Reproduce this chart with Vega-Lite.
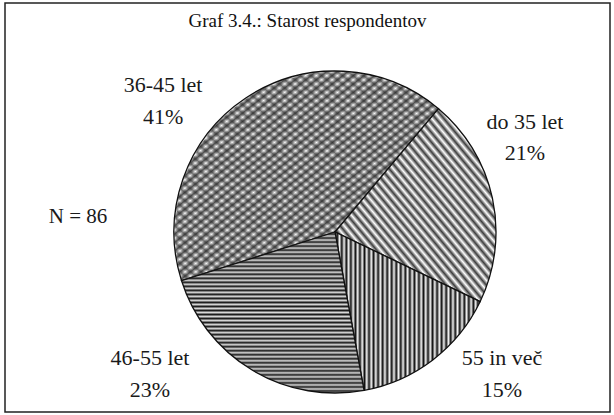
{
  "$schema": "https://vega.github.io/schema/vega-lite/v6.json",
  "autosize": {"type": "none"},
  "padding": {"left": 5, "top": 3, "right": 4, "bottom": 3},
  "width": 605,
  "height": 409,
  "background": "#ffffff",
  "config": {"view": {"stroke": null}, "font": "Liberation Serif"},
  "title": {"text": "Graf 3.4.: Starost respondentov", "font": "Liberation Serif", "fontSize": 19, "fontWeight": "normal", "color": "#111111", "anchor": "middle", "baseline": "middle", "offset": -39, "dy": 14},
  "data": {"values": [
    {"cat": "36-45 let", "pct": 41},
    {"cat": "do 35 let", "pct": 21},
    {"cat": "55 in več", "pct": 15},
    {"cat": "46-55 let", "pct": 23}
  ]},
  "layer": [
    {
      "data": {"values": [{"frame": "border"}]},
      "mark": {"type": "rect", "x": 0, "y": 0, "x2": "width", "y2": "height", "fill": "transparent", "stroke": "#222222", "strokeWidth": 1.5},
      "encoding": {}
    },
    {
      "mark": {"type": "arc", "outerRadius": 161, "x": 330, "y": 229, "stroke": "#111111", "strokeWidth": 1.3},
      "encoding": {
        "theta": {"field": "pct", "type": "quantitative", "stack": true, "scale": {"range": [0.6981, 6.9813]}},
        "order": {"field": "cat", "sort": "descending"},
        "detail": {"field": "cat"},
        "fill": {
          "condition": [
            {"test": "datum.cat === 'do 35 let'", "value": {"gradient": "linear", "x1": 0, "y1": 1, "x2": 1, "y2": 0, "stops": [
              {"offset":0,"color":"#fff"},{"offset":0.0125,"color":"#3c3c3c"},{"offset":0.025,"color":"#fff"},{"offset":0.0375,"color":"#3c3c3c"},{"offset":0.05,"color":"#fff"},{"offset":0.0625,"color":"#3c3c3c"},{"offset":0.075,"color":"#fff"},{"offset":0.0875,"color":"#3c3c3c"},{"offset":0.1,"color":"#fff"},{"offset":0.1125,"color":"#3c3c3c"},{"offset":0.125,"color":"#fff"},{"offset":0.1375,"color":"#3c3c3c"},{"offset":0.15,"color":"#fff"},{"offset":0.1625,"color":"#3c3c3c"},{"offset":0.175,"color":"#fff"},{"offset":0.1875,"color":"#3c3c3c"},{"offset":0.2,"color":"#fff"},{"offset":0.2125,"color":"#3c3c3c"},{"offset":0.225,"color":"#fff"},{"offset":0.2375,"color":"#3c3c3c"},{"offset":0.25,"color":"#fff"},{"offset":0.2625,"color":"#3c3c3c"},{"offset":0.275,"color":"#fff"},{"offset":0.2875,"color":"#3c3c3c"},{"offset":0.3,"color":"#fff"},{"offset":0.3125,"color":"#3c3c3c"},{"offset":0.325,"color":"#fff"},{"offset":0.3375,"color":"#3c3c3c"},{"offset":0.35,"color":"#fff"},{"offset":0.3625,"color":"#3c3c3c"},{"offset":0.375,"color":"#fff"},{"offset":0.3875,"color":"#3c3c3c"},{"offset":0.4,"color":"#fff"},{"offset":0.4125,"color":"#3c3c3c"},{"offset":0.425,"color":"#fff"},{"offset":0.4375,"color":"#3c3c3c"},{"offset":0.45,"color":"#fff"},{"offset":0.4625,"color":"#3c3c3c"},{"offset":0.475,"color":"#fff"},{"offset":0.4875,"color":"#3c3c3c"},{"offset":0.5,"color":"#fff"},{"offset":0.5125,"color":"#3c3c3c"},{"offset":0.525,"color":"#fff"},{"offset":0.5375,"color":"#3c3c3c"},{"offset":0.55,"color":"#fff"},{"offset":0.5625,"color":"#3c3c3c"},{"offset":0.575,"color":"#fff"},{"offset":0.5875,"color":"#3c3c3c"},{"offset":0.6,"color":"#fff"},{"offset":0.6125,"color":"#3c3c3c"},{"offset":0.625,"color":"#fff"},{"offset":0.6375,"color":"#3c3c3c"},{"offset":0.65,"color":"#fff"},{"offset":0.6625,"color":"#3c3c3c"},{"offset":0.675,"color":"#fff"},{"offset":0.6875,"color":"#3c3c3c"},{"offset":0.7,"color":"#fff"},{"offset":0.7125,"color":"#3c3c3c"},{"offset":0.725,"color":"#fff"},{"offset":0.7375,"color":"#3c3c3c"},{"offset":0.75,"color":"#fff"},{"offset":0.7625,"color":"#3c3c3c"},{"offset":0.775,"color":"#fff"},{"offset":0.7875,"color":"#3c3c3c"},{"offset":0.8,"color":"#fff"},{"offset":0.8125,"color":"#3c3c3c"},{"offset":0.825,"color":"#fff"},{"offset":0.8375,"color":"#3c3c3c"},{"offset":0.85,"color":"#fff"},{"offset":0.8625,"color":"#3c3c3c"},{"offset":0.875,"color":"#fff"},{"offset":0.8875,"color":"#3c3c3c"},{"offset":0.9,"color":"#fff"},{"offset":0.9125,"color":"#3c3c3c"},{"offset":0.925,"color":"#fff"},{"offset":0.9375,"color":"#3c3c3c"},{"offset":0.95,"color":"#fff"},{"offset":0.9625,"color":"#3c3c3c"},{"offset":0.975,"color":"#fff"},{"offset":0.9875,"color":"#3c3c3c"},{"offset":1,"color":"#fff"}
            ]}},
            {"test": "datum.cat === '55 in več'", "value": {"gradient": "linear", "x1": 0, "y1": 0, "x2": 1, "y2": 0, "stops": [
              {"offset":0,"color":"#f4f4f4"},{"offset":0.015625,"color":"#111"},{"offset":0.03125,"color":"#f4f4f4"},{"offset":0.046875,"color":"#111"},{"offset":0.0625,"color":"#f4f4f4"},{"offset":0.078125,"color":"#111"},{"offset":0.09375,"color":"#f4f4f4"},{"offset":0.109375,"color":"#111"},{"offset":0.125,"color":"#f4f4f4"},{"offset":0.140625,"color":"#111"},{"offset":0.15625,"color":"#f4f4f4"},{"offset":0.171875,"color":"#111"},{"offset":0.1875,"color":"#f4f4f4"},{"offset":0.203125,"color":"#111"},{"offset":0.21875,"color":"#f4f4f4"},{"offset":0.234375,"color":"#111"},{"offset":0.25,"color":"#f4f4f4"},{"offset":0.265625,"color":"#111"},{"offset":0.28125,"color":"#f4f4f4"},{"offset":0.296875,"color":"#111"},{"offset":0.3125,"color":"#f4f4f4"},{"offset":0.328125,"color":"#111"},{"offset":0.34375,"color":"#f4f4f4"},{"offset":0.359375,"color":"#111"},{"offset":0.375,"color":"#f4f4f4"},{"offset":0.390625,"color":"#111"},{"offset":0.40625,"color":"#f4f4f4"},{"offset":0.421875,"color":"#111"},{"offset":0.4375,"color":"#f4f4f4"},{"offset":0.453125,"color":"#111"},{"offset":0.46875,"color":"#f4f4f4"},{"offset":0.484375,"color":"#111"},{"offset":0.5,"color":"#f4f4f4"},{"offset":0.515625,"color":"#111"},{"offset":0.53125,"color":"#f4f4f4"},{"offset":0.546875,"color":"#111"},{"offset":0.5625,"color":"#f4f4f4"},{"offset":0.578125,"color":"#111"},{"offset":0.59375,"color":"#f4f4f4"},{"offset":0.609375,"color":"#111"},{"offset":0.625,"color":"#f4f4f4"},{"offset":0.640625,"color":"#111"},{"offset":0.65625,"color":"#f4f4f4"},{"offset":0.671875,"color":"#111"},{"offset":0.6875,"color":"#f4f4f4"},{"offset":0.703125,"color":"#111"},{"offset":0.71875,"color":"#f4f4f4"},{"offset":0.734375,"color":"#111"},{"offset":0.75,"color":"#f4f4f4"},{"offset":0.765625,"color":"#111"},{"offset":0.78125,"color":"#f4f4f4"},{"offset":0.796875,"color":"#111"},{"offset":0.8125,"color":"#f4f4f4"},{"offset":0.828125,"color":"#111"},{"offset":0.84375,"color":"#f4f4f4"},{"offset":0.859375,"color":"#111"},{"offset":0.875,"color":"#f4f4f4"},{"offset":0.890625,"color":"#111"},{"offset":0.90625,"color":"#f4f4f4"},{"offset":0.921875,"color":"#111"},{"offset":0.9375,"color":"#f4f4f4"},{"offset":0.953125,"color":"#111"},{"offset":0.96875,"color":"#f4f4f4"},{"offset":0.984375,"color":"#111"},{"offset":1,"color":"#f4f4f4"}
            ]}},
            {"test": "datum.cat === '46-55 let'", "value": {"gradient": "linear", "x1": 0, "y1": 0, "x2": 0, "y2": 1, "stops": [
              {"offset":0,"color":"#d8d8d8"},{"offset":0.0125,"color":"#1a1a1a"},{"offset":0.025,"color":"#d8d8d8"},{"offset":0.0375,"color":"#1a1a1a"},{"offset":0.05,"color":"#d8d8d8"},{"offset":0.0625,"color":"#1a1a1a"},{"offset":0.075,"color":"#d8d8d8"},{"offset":0.0875,"color":"#1a1a1a"},{"offset":0.1,"color":"#d8d8d8"},{"offset":0.1125,"color":"#1a1a1a"},{"offset":0.125,"color":"#d8d8d8"},{"offset":0.1375,"color":"#1a1a1a"},{"offset":0.15,"color":"#d8d8d8"},{"offset":0.1625,"color":"#1a1a1a"},{"offset":0.175,"color":"#d8d8d8"},{"offset":0.1875,"color":"#1a1a1a"},{"offset":0.2,"color":"#d8d8d8"},{"offset":0.2125,"color":"#1a1a1a"},{"offset":0.225,"color":"#d8d8d8"},{"offset":0.2375,"color":"#1a1a1a"},{"offset":0.25,"color":"#d8d8d8"},{"offset":0.2625,"color":"#1a1a1a"},{"offset":0.275,"color":"#d8d8d8"},{"offset":0.2875,"color":"#1a1a1a"},{"offset":0.3,"color":"#d8d8d8"},{"offset":0.3125,"color":"#1a1a1a"},{"offset":0.325,"color":"#d8d8d8"},{"offset":0.3375,"color":"#1a1a1a"},{"offset":0.35,"color":"#d8d8d8"},{"offset":0.3625,"color":"#1a1a1a"},{"offset":0.375,"color":"#d8d8d8"},{"offset":0.3875,"color":"#1a1a1a"},{"offset":0.4,"color":"#d8d8d8"},{"offset":0.4125,"color":"#1a1a1a"},{"offset":0.425,"color":"#d8d8d8"},{"offset":0.4375,"color":"#1a1a1a"},{"offset":0.45,"color":"#d8d8d8"},{"offset":0.4625,"color":"#1a1a1a"},{"offset":0.475,"color":"#d8d8d8"},{"offset":0.4875,"color":"#1a1a1a"},{"offset":0.5,"color":"#d8d8d8"},{"offset":0.5125,"color":"#1a1a1a"},{"offset":0.525,"color":"#d8d8d8"},{"offset":0.5375,"color":"#1a1a1a"},{"offset":0.55,"color":"#d8d8d8"},{"offset":0.5625,"color":"#1a1a1a"},{"offset":0.575,"color":"#d8d8d8"},{"offset":0.5875,"color":"#1a1a1a"},{"offset":0.6,"color":"#d8d8d8"},{"offset":0.6125,"color":"#1a1a1a"},{"offset":0.625,"color":"#d8d8d8"},{"offset":0.6375,"color":"#1a1a1a"},{"offset":0.65,"color":"#d8d8d8"},{"offset":0.6625,"color":"#1a1a1a"},{"offset":0.675,"color":"#d8d8d8"},{"offset":0.6875,"color":"#1a1a1a"},{"offset":0.7,"color":"#d8d8d8"},{"offset":0.7125,"color":"#1a1a1a"},{"offset":0.725,"color":"#d8d8d8"},{"offset":0.7375,"color":"#1a1a1a"},{"offset":0.75,"color":"#d8d8d8"},{"offset":0.7625,"color":"#1a1a1a"},{"offset":0.775,"color":"#d8d8d8"},{"offset":0.7875,"color":"#1a1a1a"},{"offset":0.8,"color":"#d8d8d8"},{"offset":0.8125,"color":"#1a1a1a"},{"offset":0.825,"color":"#d8d8d8"},{"offset":0.8375,"color":"#1a1a1a"},{"offset":0.85,"color":"#d8d8d8"},{"offset":0.8625,"color":"#1a1a1a"},{"offset":0.875,"color":"#d8d8d8"},{"offset":0.8875,"color":"#1a1a1a"},{"offset":0.9,"color":"#d8d8d8"},{"offset":0.9125,"color":"#1a1a1a"},{"offset":0.925,"color":"#d8d8d8"},{"offset":0.9375,"color":"#1a1a1a"},{"offset":0.95,"color":"#d8d8d8"},{"offset":0.9625,"color":"#1a1a1a"},{"offset":0.975,"color":"#d8d8d8"},{"offset":0.9875,"color":"#1a1a1a"},{"offset":1,"color":"#d8d8d8"}
            ]}}
          ],
          "value": {"gradient": "linear", "x1": 0, "y1": 0, "x2": 1, "y2": 1, "stops": [
            {"offset":0,"color":"#fff"},{"offset":0.01,"color":"#555"},{"offset":0.02,"color":"#fff"},{"offset":0.03,"color":"#555"},{"offset":0.04,"color":"#fff"},{"offset":0.05,"color":"#555"},{"offset":0.06,"color":"#fff"},{"offset":0.07,"color":"#555"},{"offset":0.08,"color":"#fff"},{"offset":0.09,"color":"#555"},{"offset":0.1,"color":"#fff"},{"offset":0.11,"color":"#555"},{"offset":0.12,"color":"#fff"},{"offset":0.13,"color":"#555"},{"offset":0.14,"color":"#fff"},{"offset":0.15,"color":"#555"},{"offset":0.16,"color":"#fff"},{"offset":0.17,"color":"#555"},{"offset":0.18,"color":"#fff"},{"offset":0.19,"color":"#555"},{"offset":0.2,"color":"#fff"},{"offset":0.21,"color":"#555"},{"offset":0.22,"color":"#fff"},{"offset":0.23,"color":"#555"},{"offset":0.24,"color":"#fff"},{"offset":0.25,"color":"#555"},{"offset":0.26,"color":"#fff"},{"offset":0.27,"color":"#555"},{"offset":0.28,"color":"#fff"},{"offset":0.29,"color":"#555"},{"offset":0.3,"color":"#fff"},{"offset":0.31,"color":"#555"},{"offset":0.32,"color":"#fff"},{"offset":0.33,"color":"#555"},{"offset":0.34,"color":"#fff"},{"offset":0.35,"color":"#555"},{"offset":0.36,"color":"#fff"},{"offset":0.37,"color":"#555"},{"offset":0.38,"color":"#fff"},{"offset":0.39,"color":"#555"},{"offset":0.4,"color":"#fff"},{"offset":0.41,"color":"#555"},{"offset":0.42,"color":"#fff"},{"offset":0.43,"color":"#555"},{"offset":0.44,"color":"#fff"},{"offset":0.45,"color":"#555"},{"offset":0.46,"color":"#fff"},{"offset":0.47,"color":"#555"},{"offset":0.48,"color":"#fff"},{"offset":0.49,"color":"#555"},{"offset":0.5,"color":"#fff"},{"offset":0.51,"color":"#555"},{"offset":0.52,"color":"#fff"},{"offset":0.53,"color":"#555"},{"offset":0.54,"color":"#fff"},{"offset":0.55,"color":"#555"},{"offset":0.56,"color":"#fff"},{"offset":0.57,"color":"#555"},{"offset":0.58,"color":"#fff"},{"offset":0.59,"color":"#555"},{"offset":0.6,"color":"#fff"},{"offset":0.61,"color":"#555"},{"offset":0.62,"color":"#fff"},{"offset":0.63,"color":"#555"},{"offset":0.64,"color":"#fff"},{"offset":0.65,"color":"#555"},{"offset":0.66,"color":"#fff"},{"offset":0.67,"color":"#555"},{"offset":0.68,"color":"#fff"},{"offset":0.69,"color":"#555"},{"offset":0.7,"color":"#fff"},{"offset":0.71,"color":"#555"},{"offset":0.72,"color":"#fff"},{"offset":0.73,"color":"#555"},{"offset":0.74,"color":"#fff"},{"offset":0.75,"color":"#555"},{"offset":0.76,"color":"#fff"},{"offset":0.77,"color":"#555"},{"offset":0.78,"color":"#fff"},{"offset":0.79,"color":"#555"},{"offset":0.8,"color":"#fff"},{"offset":0.81,"color":"#555"},{"offset":0.82,"color":"#fff"},{"offset":0.83,"color":"#555"},{"offset":0.84,"color":"#fff"},{"offset":0.85,"color":"#555"},{"offset":0.86,"color":"#fff"},{"offset":0.87,"color":"#555"},{"offset":0.88,"color":"#fff"},{"offset":0.89,"color":"#555"},{"offset":0.9,"color":"#fff"},{"offset":0.91,"color":"#555"},{"offset":0.92,"color":"#fff"},{"offset":0.93,"color":"#555"},{"offset":0.94,"color":"#fff"},{"offset":0.95,"color":"#555"},{"offset":0.96,"color":"#fff"},{"offset":0.97,"color":"#555"},{"offset":0.98,"color":"#fff"},{"offset":0.99,"color":"#555"},{"offset":1,"color":"#fff"}
          ]}
        }
      }
    },
    {
      "mark": {"type": "arc", "outerRadius": 160, "x": 330, "y": 229, "strokeWidth": 0},
      "encoding": {
        "theta": {"field": "pct", "type": "quantitative", "stack": true, "scale": {"range": [0.6981, 6.9813]}},
        "order": {"field": "cat", "sort": "descending"},
        "detail": {"field": "cat"},
        "fill": {
          "condition": {"test": "datum.cat === '36-45 let'", "value": {"gradient": "linear", "x1": 0, "y1": 1, "x2": 1, "y2": 0, "stops": [
            {"offset":0,"color":"rgba(34,34,34,0)"},{"offset":0.01,"color":"rgba(34,34,34,0.6)"},{"offset":0.02,"color":"rgba(34,34,34,0)"},{"offset":0.03,"color":"rgba(34,34,34,0.6)"},{"offset":0.04,"color":"rgba(34,34,34,0)"},{"offset":0.05,"color":"rgba(34,34,34,0.6)"},{"offset":0.06,"color":"rgba(34,34,34,0)"},{"offset":0.07,"color":"rgba(34,34,34,0.6)"},{"offset":0.08,"color":"rgba(34,34,34,0)"},{"offset":0.09,"color":"rgba(34,34,34,0.6)"},{"offset":0.1,"color":"rgba(34,34,34,0)"},{"offset":0.11,"color":"rgba(34,34,34,0.6)"},{"offset":0.12,"color":"rgba(34,34,34,0)"},{"offset":0.13,"color":"rgba(34,34,34,0.6)"},{"offset":0.14,"color":"rgba(34,34,34,0)"},{"offset":0.15,"color":"rgba(34,34,34,0.6)"},{"offset":0.16,"color":"rgba(34,34,34,0)"},{"offset":0.17,"color":"rgba(34,34,34,0.6)"},{"offset":0.18,"color":"rgba(34,34,34,0)"},{"offset":0.19,"color":"rgba(34,34,34,0.6)"},{"offset":0.2,"color":"rgba(34,34,34,0)"},{"offset":0.21,"color":"rgba(34,34,34,0.6)"},{"offset":0.22,"color":"rgba(34,34,34,0)"},{"offset":0.23,"color":"rgba(34,34,34,0.6)"},{"offset":0.24,"color":"rgba(34,34,34,0)"},{"offset":0.25,"color":"rgba(34,34,34,0.6)"},{"offset":0.26,"color":"rgba(34,34,34,0)"},{"offset":0.27,"color":"rgba(34,34,34,0.6)"},{"offset":0.28,"color":"rgba(34,34,34,0)"},{"offset":0.29,"color":"rgba(34,34,34,0.6)"},{"offset":0.3,"color":"rgba(34,34,34,0)"},{"offset":0.31,"color":"rgba(34,34,34,0.6)"},{"offset":0.32,"color":"rgba(34,34,34,0)"},{"offset":0.33,"color":"rgba(34,34,34,0.6)"},{"offset":0.34,"color":"rgba(34,34,34,0)"},{"offset":0.35,"color":"rgba(34,34,34,0.6)"},{"offset":0.36,"color":"rgba(34,34,34,0)"},{"offset":0.37,"color":"rgba(34,34,34,0.6)"},{"offset":0.38,"color":"rgba(34,34,34,0)"},{"offset":0.39,"color":"rgba(34,34,34,0.6)"},{"offset":0.4,"color":"rgba(34,34,34,0)"},{"offset":0.41,"color":"rgba(34,34,34,0.6)"},{"offset":0.42,"color":"rgba(34,34,34,0)"},{"offset":0.43,"color":"rgba(34,34,34,0.6)"},{"offset":0.44,"color":"rgba(34,34,34,0)"},{"offset":0.45,"color":"rgba(34,34,34,0.6)"},{"offset":0.46,"color":"rgba(34,34,34,0)"},{"offset":0.47,"color":"rgba(34,34,34,0.6)"},{"offset":0.48,"color":"rgba(34,34,34,0)"},{"offset":0.49,"color":"rgba(34,34,34,0.6)"},{"offset":0.5,"color":"rgba(34,34,34,0)"},{"offset":0.51,"color":"rgba(34,34,34,0.6)"},{"offset":0.52,"color":"rgba(34,34,34,0)"},{"offset":0.53,"color":"rgba(34,34,34,0.6)"},{"offset":0.54,"color":"rgba(34,34,34,0)"},{"offset":0.55,"color":"rgba(34,34,34,0.6)"},{"offset":0.56,"color":"rgba(34,34,34,0)"},{"offset":0.57,"color":"rgba(34,34,34,0.6)"},{"offset":0.58,"color":"rgba(34,34,34,0)"},{"offset":0.59,"color":"rgba(34,34,34,0.6)"},{"offset":0.6,"color":"rgba(34,34,34,0)"},{"offset":0.61,"color":"rgba(34,34,34,0.6)"},{"offset":0.62,"color":"rgba(34,34,34,0)"},{"offset":0.63,"color":"rgba(34,34,34,0.6)"},{"offset":0.64,"color":"rgba(34,34,34,0)"},{"offset":0.65,"color":"rgba(34,34,34,0.6)"},{"offset":0.66,"color":"rgba(34,34,34,0)"},{"offset":0.67,"color":"rgba(34,34,34,0.6)"},{"offset":0.68,"color":"rgba(34,34,34,0)"},{"offset":0.69,"color":"rgba(34,34,34,0.6)"},{"offset":0.7,"color":"rgba(34,34,34,0)"},{"offset":0.71,"color":"rgba(34,34,34,0.6)"},{"offset":0.72,"color":"rgba(34,34,34,0)"},{"offset":0.73,"color":"rgba(34,34,34,0.6)"},{"offset":0.74,"color":"rgba(34,34,34,0)"},{"offset":0.75,"color":"rgba(34,34,34,0.6)"},{"offset":0.76,"color":"rgba(34,34,34,0)"},{"offset":0.77,"color":"rgba(34,34,34,0.6)"},{"offset":0.78,"color":"rgba(34,34,34,0)"},{"offset":0.79,"color":"rgba(34,34,34,0.6)"},{"offset":0.8,"color":"rgba(34,34,34,0)"},{"offset":0.81,"color":"rgba(34,34,34,0.6)"},{"offset":0.82,"color":"rgba(34,34,34,0)"},{"offset":0.83,"color":"rgba(34,34,34,0.6)"},{"offset":0.84,"color":"rgba(34,34,34,0)"},{"offset":0.85,"color":"rgba(34,34,34,0.6)"},{"offset":0.86,"color":"rgba(34,34,34,0)"},{"offset":0.87,"color":"rgba(34,34,34,0.6)"},{"offset":0.88,"color":"rgba(34,34,34,0)"},{"offset":0.89,"color":"rgba(34,34,34,0.6)"},{"offset":0.9,"color":"rgba(34,34,34,0)"},{"offset":0.91,"color":"rgba(34,34,34,0.6)"},{"offset":0.92,"color":"rgba(34,34,34,0)"},{"offset":0.93,"color":"rgba(34,34,34,0.6)"},{"offset":0.94,"color":"rgba(34,34,34,0)"},{"offset":0.95,"color":"rgba(34,34,34,0.6)"},{"offset":0.96,"color":"rgba(34,34,34,0)"},{"offset":0.97,"color":"rgba(34,34,34,0.6)"},{"offset":0.98,"color":"rgba(34,34,34,0)"},{"offset":0.99,"color":"rgba(34,34,34,0.6)"},{"offset":1,"color":"rgba(34,34,34,0)"}
          ]}},
          "value": "transparent"
        }
      }
    },
    {
      "transform": [{"calculate": "[datum.cat, datum.pct + '%']", "as": "label"}],
      "mark": {"type": "text", "x": 330, "y": 229, "radius": 200, "dx": -60.7, "dy": 19.2, "font": "Liberation Serif", "fontSize": 22, "lineHeight": 32, "align": "center", "baseline": "middle", "color": "#1a1a1a"},
      "encoding": {
        "theta": {"field": "pct", "type": "quantitative", "stack": true, "scale": {"range": [0.6981, 6.9813]}},
        "order": {"field": "cat", "sort": "descending"},
        "detail": {"field": "cat"},
        "text": {"condition": {"test": "datum.cat === '36-45 let'", "field": "label", "type": "nominal"}, "value": ""}
      }
    },
    {
      "transform": [{"calculate": "[datum.cat, datum.pct + '%']", "as": "label"}],
      "mark": {"type": "text", "x": 330, "y": 229, "radius": 200, "dx": -5.5, "dy": -67.7, "font": "Liberation Serif", "fontSize": 22, "lineHeight": 31, "align": "center", "baseline": "middle", "color": "#1a1a1a"},
      "encoding": {
        "theta": {"field": "pct", "type": "quantitative", "stack": true, "scale": {"range": [0.6981, 6.9813]}},
        "order": {"field": "cat", "sort": "descending"},
        "detail": {"field": "cat"},
        "text": {"condition": {"test": "datum.cat === 'do 35 let'", "field": "label", "type": "nominal"}, "value": ""}
      }
    },
    {
      "transform": [{"calculate": "[datum.cat, datum.pct + '%']", "as": "label"}],
      "mark": {"type": "text", "x": 330, "y": 229, "radius": 200, "dx": 45.5, "dy": -33, "font": "Liberation Serif", "fontSize": 22, "lineHeight": 32, "align": "center", "baseline": "middle", "color": "#1a1a1a"},
      "encoding": {
        "theta": {"field": "pct", "type": "quantitative", "stack": true, "scale": {"range": [0.6981, 6.9813]}},
        "order": {"field": "cat", "sort": "descending"},
        "detail": {"field": "cat"},
        "text": {"condition": {"test": "datum.cat === '55 in več'", "field": "label", "type": "nominal"}, "value": ""}
      }
    },
    {
      "transform": [{"calculate": "[datum.cat, datum.pct + '%']", "as": "label"}],
      "mark": {"type": "text", "x": 330, "y": 229, "radius": 200, "dx": -82, "dy": -45.4, "font": "Liberation Serif", "fontSize": 22, "lineHeight": 32, "align": "center", "baseline": "middle", "color": "#1a1a1a"},
      "encoding": {
        "theta": {"field": "pct", "type": "quantitative", "stack": true, "scale": {"range": [0.6981, 6.9813]}},
        "order": {"field": "cat", "sort": "descending"},
        "detail": {"field": "cat"},
        "text": {"condition": {"test": "datum.cat === '46-55 let'", "field": "label", "type": "nominal"}, "value": ""}
      }
    },
    {
      "data": {"values": [{"note": "N = 86"}]},
      "mark": {"type": "text", "x": 330, "y": 229, "dx": -257, "dy": -15, "font": "Liberation Serif", "fontSize": 21, "align": "center", "baseline": "middle", "color": "#1a1a1a"},
      "encoding": {"text": {"field": "note", "type": "nominal"}}
    }
  ]
}
